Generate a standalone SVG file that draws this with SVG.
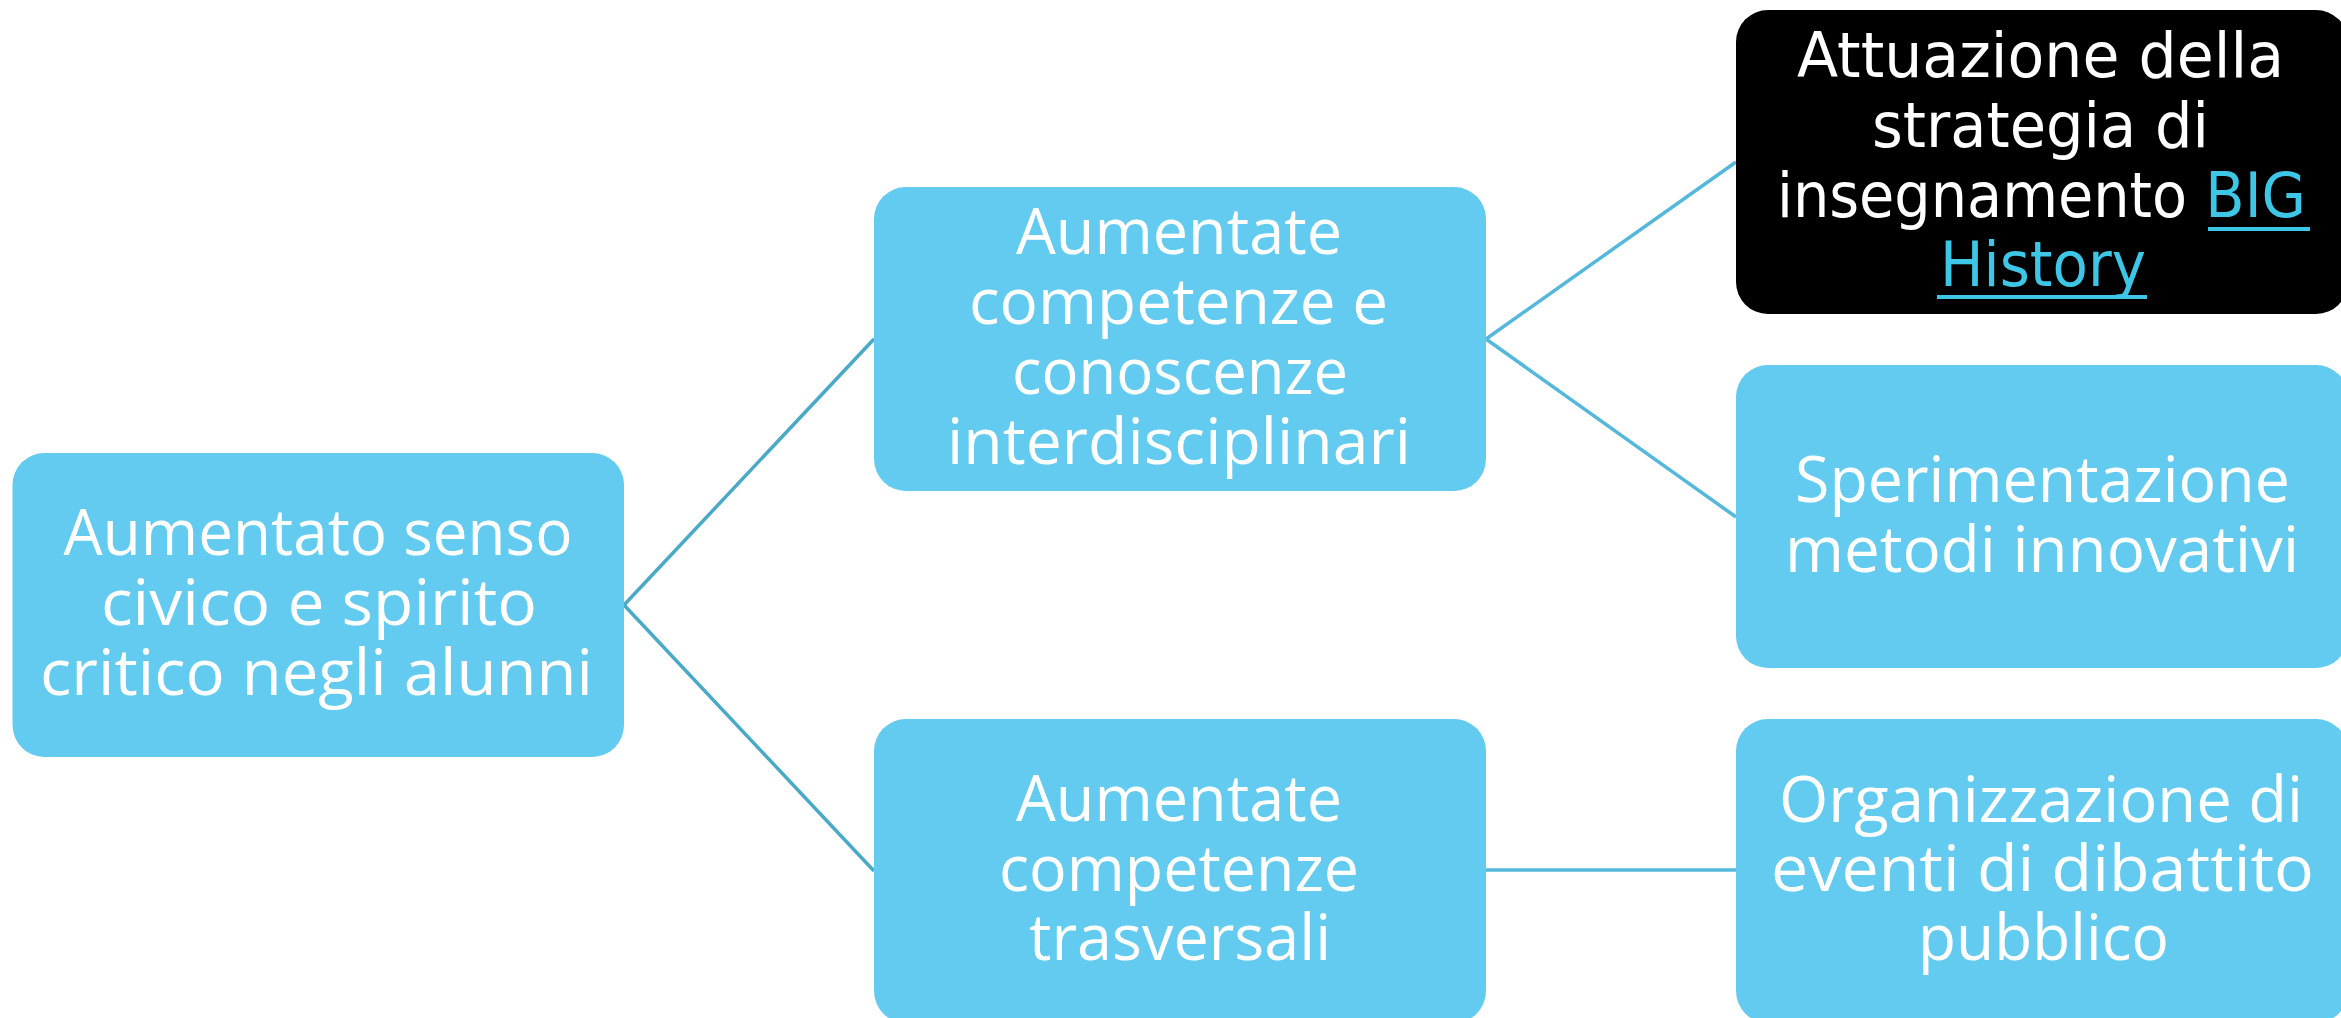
<svg xmlns="http://www.w3.org/2000/svg" width="2341" height="1018" viewBox="0 0 2341 1018">
<style>
.box{fill:#62CBEF}
.dark{fill:#000}
.t{font-family:"Open Sans","Liberation Sans",sans-serif;font-size:64px;fill:#fff;text-anchor:middle}
.td{font-family:"DejaVu Sans","Liberation Sans",sans-serif;font-size:62px;fill:#fff;text-anchor:middle}
.link{fill:#3DC6E6}
.c1{stroke:#49A9C6;stroke-width:3.5;fill:none}
.c2{stroke:#55B8DB;stroke-width:3.5;fill:none}
</style>
<rect width="2341" height="1018" fill="#fff"/>
<g id="connectors">
<path class="c1" d="M624,605 L874,339"/>
<path class="c1" d="M624,605 L874,871"/>
<path class="c2" d="M1486,339 L1736,162"/>
<path class="c2" d="M1486,339 L1736,517"/>
<path class="c2" d="M1486,870 L1736,870" stroke-width="4"/>
</g>
<g id="n-root">
<rect class="box" x="12.5" y="453" width="611.5" height="304" rx="32"/>
<text class="t" x="318" y="555" textLength="509" lengthAdjust="spacingAndGlyphs">Aumentato senso</text>
<text class="t" x="319" y="625" textLength="436" lengthAdjust="spacingAndGlyphs">civico e spirito</text>
<text class="t" x="316.5" y="695" textLength="553" lengthAdjust="spacingAndGlyphs">critico negli alunni</text>
</g>
<g id="n-interdisc">
<rect class="box" x="874" y="187" width="612" height="304" rx="32"/>
<text class="t" x="1179" y="254" textLength="326" lengthAdjust="spacingAndGlyphs">Aumentate</text>
<text class="t" x="1178.5" y="324" textLength="419" lengthAdjust="spacingAndGlyphs">competenze e</text>
<text class="t" x="1180" y="394" textLength="336" lengthAdjust="spacingAndGlyphs">conoscenze</text>
<text class="t" x="1179" y="464" textLength="464" lengthAdjust="spacingAndGlyphs">interdisciplinari</text>
</g>
<g id="n-trasv">
<rect class="box" x="874" y="719" width="612" height="304" rx="32"/>
<text class="t" x="1179" y="821" textLength="326" lengthAdjust="spacingAndGlyphs">Aumentate</text>
<text class="t" x="1179" y="891" textLength="360" lengthAdjust="spacingAndGlyphs">competenze</text>
<text class="t" x="1180" y="960" textLength="302" lengthAdjust="spacingAndGlyphs">trasversali</text>
</g>
<g id="n-big">
<rect class="dark" x="1736" y="10" width="612" height="304" rx="32"/>
<text class="td" x="2040.5" y="77" textLength="487" lengthAdjust="spacingAndGlyphs">Attuazione della</text>
<text class="td" x="2040.5" y="147" textLength="337" lengthAdjust="spacingAndGlyphs">strategia di</text>
<text class="td" x="2041.5" y="217" textLength="529" lengthAdjust="spacingAndGlyphs">insegnamento <tspan class="link">BIG</tspan></text>
<text class="td link" x="2043" y="286" textLength="206" lengthAdjust="spacingAndGlyphs">History</text>
<rect class="link" x="2208" y="227" width="102" height="4"/>
<rect class="link" x="1937" y="295" width="210" height="4"/>
</g>
<g id="n-sperim">
<rect class="box" x="1736" y="365" width="612" height="303" rx="32"/>
<text class="t" x="2042.5" y="502" textLength="495" lengthAdjust="spacingAndGlyphs">Sperimentazione</text>
<text class="t" x="2042" y="572" textLength="514" lengthAdjust="spacingAndGlyphs">metodi innovativi</text>
</g>
<g id="n-eventi">
<rect class="box" x="1736" y="719" width="612" height="304" rx="32"/>
<text class="t" x="2041" y="822" textLength="524" lengthAdjust="spacingAndGlyphs">Organizzazione di</text>
<text class="t" x="2042.5" y="891" textLength="543" lengthAdjust="spacingAndGlyphs">eventi di dibattito</text>
<text class="t" x="2043.5" y="960" textLength="251" lengthAdjust="spacingAndGlyphs">pubblico</text>
</g>
</svg>
